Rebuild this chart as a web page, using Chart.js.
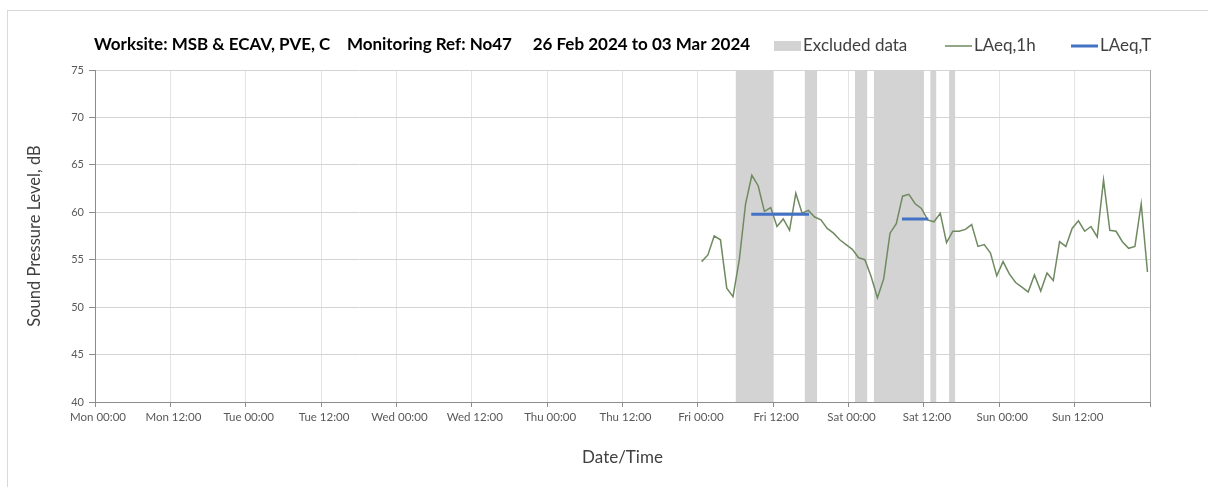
<!DOCTYPE html>
<html>
<head>
<meta charset="utf-8">
<script src="https://cdn.jsdelivr.net/npm/chart.js@4.4.1/dist/chart.umd.min.js"></script>
<style>
  html, body { margin: 0; padding: 0; background: #fff; overflow: hidden; }
  #frame { position: absolute; left: 7px; top: 10px; width: 1240px; height: 520px;
           border-left: 1px solid #d9d9d9; border-top: 1px solid #d9d9d9; }
  #wrap { position: absolute; left: 0; top: 0; width: 1208px; height: 487px; }
</style>
</head>
<body>
<div id="frame"></div>
<div id="wrap"><canvas id="noiseChart"></canvas></div>
<script>
const titleText = "Worksite: MSB & ECAV, PVE, C    Monitoring Ref: No47     26 Feb 2024 to 03 Mar 2024";

// x axis runs in hours from Mon 00:00, one label per 12 h
const tickLabels = ["Mon 00:00", "Mon 12:00", "Tue 00:00", "Tue 12:00", "Wed 00:00", "Wed 12:00",
                    "Thu 00:00", "Thu 12:00", "Fri 00:00", "Fri 12:00", "Sat 00:00", "Sat 12:00",
                    "Sun 00:00", "Sun 12:00", ""];

// hourly LAeq,1h, first reading plotted at Fri 00:36
const firstHour = 96.6;
const laeq1h = [54.8, 55.5, 57.5, 57.1, 52.0, 51.1, 55.0, 60.9, 63.9, 62.8,
                60.1, 60.5, 58.5, 59.3, 58.1, 62.0, 59.9, 60.2, 59.5, 59.2,
                58.3, 57.8, 57.1, 56.6, 56.1, 55.2, 55.0, 53.2, 51.0, 53.0,
                57.8, 58.8, 61.7, 61.9, 60.9, 60.4, 59.2, 59.0, 59.9, 56.8,
                58.0, 58.0, 58.2, 58.7, 56.4, 56.6, 55.7, 53.3, 54.8, 53.5,
                52.6, 52.1, 51.6, 53.4, 51.7, 53.6, 52.8, 56.9, 56.4, 58.3,
                59.1, 58.0, 58.5, 57.4, 63.4, 58.1, 58.0, 56.9, 56.2, 56.4,
                60.9, 53.7];

// excluded periods (hours from Mon 00:00)
const excludedStart = [102, 113, 121, 124, 133, 136];
const excludedEnd = [108, 115, 123, 132, 134, 137];

// LAeq,T over each valid period
const laeqTStart = [104.5, 128.5];
const laeqTEnd = [113.7, 132.7];
const laeqTValue = [59.8, 59.3];

const FONT = "Lato, 'Open Sans', sans-serif";

const linePoints = laeq1h.map((v, i) => ({ x: firstHour + i, y: v }));

const bandPoints = [];
excludedStart.forEach((s, i) => {
    bandPoints.push({ x: s, y: 75 }, { x: excludedEnd[i], y: 75 }, { x: excludedEnd[i], y: null });
});

const laeqTPoints = [];
laeqTStart.forEach((s, i) => {
    laeqTPoints.push({ x: s, y: laeqTValue[i] }, { x: laeqTEnd[i], y: laeqTValue[i] }, { x: laeqTEnd[i], y: null });
});

// title and legend share one row above the plot
const headerPlugin = {
    id: "header",
    afterDraw(chart) {
        const ctx = chart.ctx;
        ctx.save();
        ctx.textBaseline = "middle";
        ctx.fillStyle = "#000";
        ctx.font = `bold 17px ${FONT}`;
        ctx.fillText(titleText, 94, 45, 669);

        const legendX = [774, 945, 1071];
        ctx.font = `17px ${FONT}`;
        chart.data.datasets.forEach((ds, i) => {
            const x = legendX[i];
            if (ds.fill) {
                ctx.fillStyle = ds.backgroundColor;
                ctx.fillRect(x, 41, 27, 10);
            } else {
                ctx.strokeStyle = ds.borderColor;
                ctx.lineWidth = ds.borderWidth;
                ctx.beginPath();
                ctx.moveTo(x, 46);
                ctx.lineTo(x + 27, 46);
                ctx.stroke();
            }
            ctx.fillStyle = "#404040";
            ctx.fillText(ds.label, x + 29, 46);
        });
        ctx.restore();
    }
};

new Chart(document.getElementById("noiseChart"), {
    type: "line",
    data: {
        datasets: [
            {
                label: "Excluded data",
                data: bandPoints,
                backgroundColor: "#d3d3d3",
                borderWidth: 0,
                pointRadius: 0,
                fill: "start",
                spanGaps: false,
                order: 3
            },
            {
                label: "LAeq,1h",
                data: linePoints,
                borderColor: "#6f8a60",
                borderWidth: 1.5,
                pointRadius: 0,
                fill: false,
                order: 2
            },
            {
                label: "LAeq,T",
                data: laeqTPoints,
                borderColor: "#4472c4",
                borderWidth: 3,
                pointRadius: 0,
                fill: false,
                spanGaps: false,
                order: 1
            }
        ]
    },
    options: {
        responsive: true,
        maintainAspectRatio: false,
        animation: false,
        layout: { padding: { left: 23, right: 58, top: 70, bottom: 12 } },
        plugins: {
            legend: { display: false },
            title: { display: false },
            tooltip: { enabled: false }
        },
        scales: {
            x: {
                type: "linear",
                min: 0,
                max: 168,
                afterFit: s => { s.height = 73; },
                ticks: {
                    stepSize: 12,
                    autoSkip: false,
                    maxRotation: 0,
                    padding: 3,
                    labelOffset: 3,
                    color: "#595959",
                    font: { family: FONT, size: 11.5 },
                    callback: v => tickLabels[Math.round(v / 12)]
                },
                grid: {
                    color: c => (c.tick && c.tick.value === 168 ? "#a6a6a6" : "#e4e4e4"),
                    tickColor: "#8c8c8c",
                    tickLength: 5
                },
                border: { color: "#8c8c8c" },
                title: {
                    display: true,
                    text: "Date/Time",
                    color: "#404040",
                    font: { family: FONT, size: 17 },
                    padding: { top: 0, bottom: 7 }
                }
            },
            y: {
                min: 40,
                max: 75,
                afterFit: s => { s.width = 72; },
                ticks: {
                    stepSize: 5,
                    padding: 5,
                    color: "#595959",
                    font: { family: FONT, size: 11 }
                },
                grid: {
                    color: "#d4d4d4",
                    tickColor: "#8c8c8c",
                    tickLength: 6
                },
                border: { color: "#8c8c8c" },
                title: {
                    display: true,
                    text: "Sound Pressure Level, dB",
                    color: "#404040",
                    font: { family: FONT, size: 16.5 },
                    padding: { top: 2, bottom: 4 }
                }
            }
        }
    },
    plugins: [headerPlugin]
});
</script>
</body>
</html>
